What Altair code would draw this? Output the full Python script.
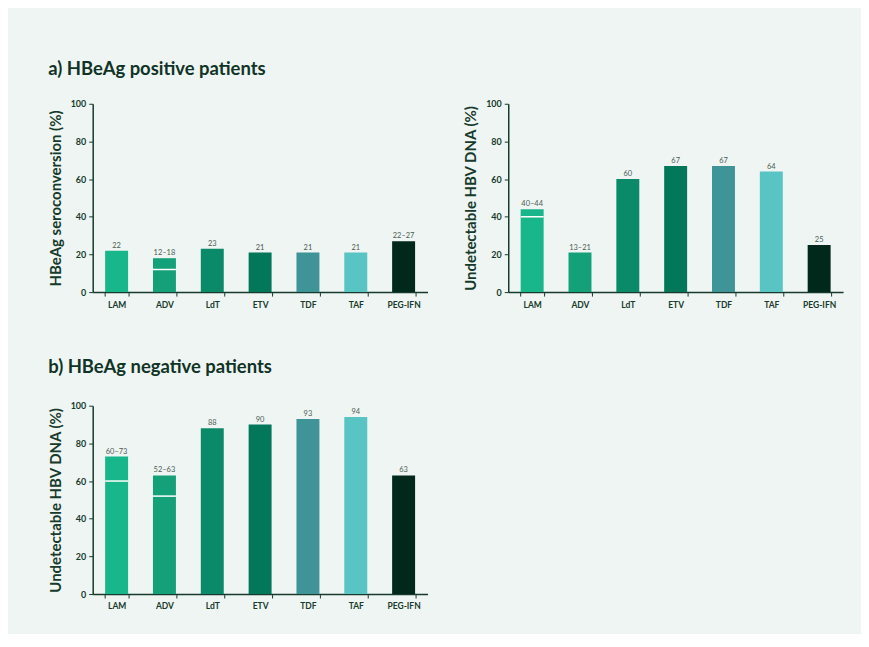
import altair as alt
import pandas as pd

cats = ["LAM", "ADV", "LdT", "ETV", "TDF", "TAF", "PEG-IFN"]
colors = ["#17b68b", "#14a078", "#0b8a69", "#02775a", "#3f9497", "#58c4c4", "#00291b"]

a1_values = [22, 18, 23, 21, 21, 21, 27]
a1_split = [None, 12, None, None, None, None, None]
a1_labels = ["22", "12–18", "23", "21", "21", "21", "22–27"]

a2_values = [44, 21, 60, 67, 67, 64, 25]
a2_split = [40, None, None, None, None, None, None]
a2_labels = ["40–44", "13–21", "60", "67", "67", "64", "25"]

b_values = [73, 63, 88, 90, 93, 94, 63]
b_split = [60, 52, None, None, None, None, None]
b_labels = ["60–73", "52–63", "88", "90", "93", "94", "63"]

y_ticks = [0, 20, 40, 60, 80, 100]

DARK = "#163a2c"
FONT = "Lato"
W, H = 336, 189

x_axis = alt.Axis(labelAngle=0, tickBand="extent", labelFontSize=8.5,
                  labelFontWeight="bold", labelColor=DARK, domainColor=DARK,
                  tickColor=DARK, domainWidth=1.5, tickSize=4, labelPadding=4,
                  labelFont=FONT)


def y_axis():
    return alt.Axis(values=y_ticks, grid=False, labelFontSize=9, labelOverlap=False,
                    labelFontWeight="bold", labelColor=DARK, domainColor=DARK,
                    tickColor=DARK, domainWidth=1.5, tickSize=4, labelPadding=3,
                    titleFontSize=15, titleFontWeight="bold", titleColor=DARK,
                    titlePadding=7, labelFont=FONT, titleFont=FONT)


def panel(values, split, labels, ytitle):
    df = pd.DataFrame({"cat": cats, "val": values, "split": split, "label": labels})
    xs = alt.Scale(paddingInner=0.52, paddingOuter=0.26)
    ys = alt.Scale(domain=[0, 100], nice=False)

    def X():
        return alt.X("cat:N", sort=cats, title=None, scale=xs, axis=x_axis)

    def Y(field):
        return alt.Y(field, title=ytitle, scale=ys, axis=y_axis())

    base = alt.Chart(df)
    bars = base.mark_bar().encode(
        x=X(), y=Y("val:Q"),
        color=alt.Color("cat:N", sort=cats, scale=alt.Scale(domain=cats, range=colors), legend=None),
    )
    lines = base.transform_filter("datum.split != null").mark_tick(
        color="white", thickness=1.5, size=23, opacity=1
    ).encode(x=X(), y=Y("split:Q"))
    text = base.mark_text(dy=-5, fontSize=7.5, color="#4a5c53", font=FONT).encode(
        x=X(), y=Y("val:Q"), text="label:N")
    return alt.layer(bars, lines, text).properties(width=W, height=H)


p1 = panel(a1_values, a1_split, a1_labels, "HBeAg seroconversion (%)")
p2 = panel(a2_values, a2_split, a2_labels, "Undetectable HBV DNA (%)")
p3 = panel(b_values, b_split, b_labels, "Undetectable HBV DNA (%)")

title_kw = dict(anchor="start", fontSize=18.5, fontWeight="bold", color="#0f3326", font=FONT)

top = alt.hconcat(p1, p2, spacing=36).properties(
    title=alt.TitleParams("a) HBeAg positive patients", offset=21, **title_kw))
bottom = alt.hconcat(p3).properties(
    title=alt.TitleParams("b) HBeAg negative patients", offset=25, **title_kw))

chart = alt.vconcat(top, bottom, spacing=49).properties(
    background="#eff5f2",
    padding={"left": 40, "top": 51, "right": 18, "bottom": 22},
).configure(font=FONT).configure_view(stroke=None)

chart.save("out.html", embed_options={"renderer": "svg", "actions": False})
